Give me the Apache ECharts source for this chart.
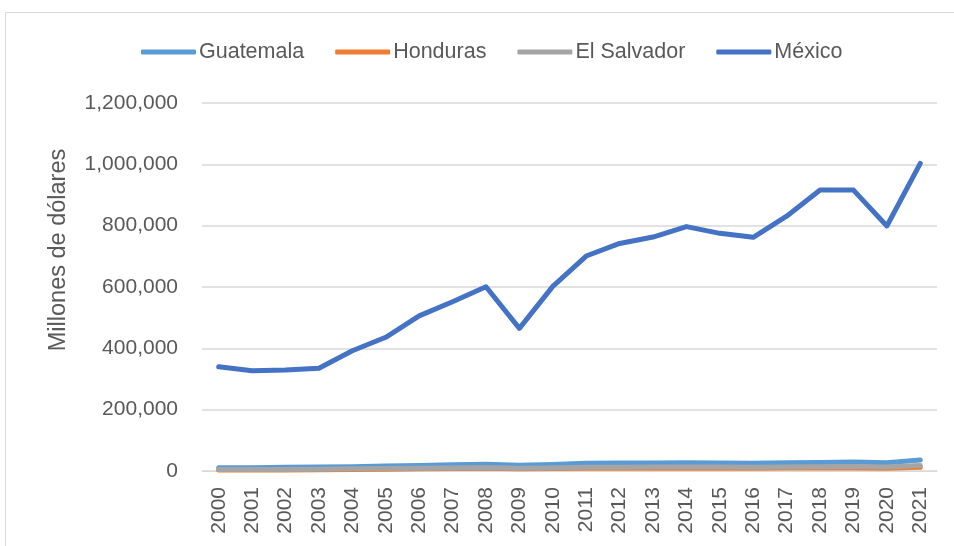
<!DOCTYPE html>
<html>
<head>
<meta charset="utf-8">
<script src="https://cdn.jsdelivr.net/npm/echarts@6/dist/echarts.min.js"></script>
<style>
  html, body { margin: 0; padding: 0; background: #fff; }
  #chart { width: 954px; height: 546px; }
</style>
</head>
<body>
<div id="chart"></div>
<script>
// years on the x axis
var years = ['2000', '2001', '2002', '2003', '2004', '2005', '2006', '2007', '2008', '2009', '2010',
    '2011', '2012', '2013', '2014', '2015', '2016', '2017', '2018', '2019', '2020', '2021'];

// millones de dólares
var guatemala = [11000, 11000, 12000, 13000, 14000, 16000, 18000, 20000, 22000, 19000, 21000,
    25000, 26000, 26000, 27000, 26000, 25000, 27000, 28000, 29000, 27000, 36000];
var honduras = [3000, 3000, 3000, 4000, 5000, 6000, 7000, 8000, 9000, 7000, 8000,
    9000, 9000, 9000, 9000, 9000, 9000, 10000, 10000, 10000, 9000, 12000];
var elSalvador = [5000, 5000, 5000, 6000, 7000, 8000, 9000, 10000, 11000, 9000, 10000,
    12000, 12000, 13000, 13000, 13000, 12000, 13000, 14000, 15000, 13000, 18000];
var mexico = [340000, 327000, 329000, 335000, 392000, 436000, 506000, 552000, 601000, 465000, 602000,
    701000, 742000, 763000, 797000, 775000, 762000, 831000, 916000, 916000, 799000, 1003000];

var yTicks = { min: 0, max: 1200000, interval: 200000 };

var FONT = '"Liberation Sans", "DejaVu Sans", sans-serif';
var TEXT = '#595959';

var mkLine = function(name, data, color) {
    return {
        name: name,
        type: 'line',
        data: data,
        symbol: 'none',
        smooth: false,
        lineStyle: { color: color, width: 5, cap: 'round', join: 'round' },
        itemStyle: { color: color }
    };
};

var chart = echarts.init(document.getElementById('chart'), null, { renderer: 'canvas' });

var option = {
    animation: false,
    backgroundColor: '#ffffff',
    graphic: [{
        type: 'rect',
        shape: { x: 5.5, y: 12.5, width: 1000, height: 600 },
        style: { fill: 'none', stroke: '#d9d9d9', lineWidth: 1 },
        silent: true
    }],
    legend: {
        top: 36,
        left: 136,
        itemWidth: 55,
        itemHeight: 5,
        itemGap: 31,
        icon: 'roundRect',
        textStyle: { fontFamily: FONT, fontSize: 21.5, color: TEXT, padding: [0, 0, 0, -2] },
        data: ['Guatemala', 'Honduras', 'El Salvador', 'México']
    },
    grid: { left: 202, right: 17, top: 103, bottom: 75 },
    xAxis: {
        type: 'category',
        data: years,
        boundaryGap: true,
        axisLine: { lineStyle: { color: '#d9d9d9', width: 1 } },
        axisTick: { show: false },
        axisLabel: {
            rotate: 90,
            margin: 16,
            fontFamily: FONT,
            fontSize: 21,
            color: TEXT,
            interval: 0
        },
        splitLine: { show: false }
    },
    yAxis: {
        type: 'value',
        min: yTicks.min,
        max: yTicks.max,
        interval: yTicks.interval,
        name: 'Millones de dólares',
        nameLocation: 'middle',
        nameGap: 131,
        nameRotate: 90,
        nameTextStyle: { fontFamily: FONT, fontSize: 23.5, color: TEXT, padding: [0, 0, 0, 74] },
        axisLine: { show: false },
        axisTick: { show: false },
        axisLabel: {
            margin: 24,
            fontFamily: FONT,
            fontSize: 21,
            color: TEXT,
            formatter: function(v) { return v.toLocaleString('en-US'); }
        },
        splitLine: { lineStyle: { color: '#d9d9d9', width: 1.5 } }
    },
    series: [
        mkLine('Guatemala', guatemala, '#5b9bd5'),
        mkLine('Honduras', honduras, '#ed7d31'),
        mkLine('El Salvador', elSalvador, '#a5a5a5'),
        mkLine('México', mexico, '#4472c4')
    ]
};

chart.setOption(option);
</script>
</body>
</html>
